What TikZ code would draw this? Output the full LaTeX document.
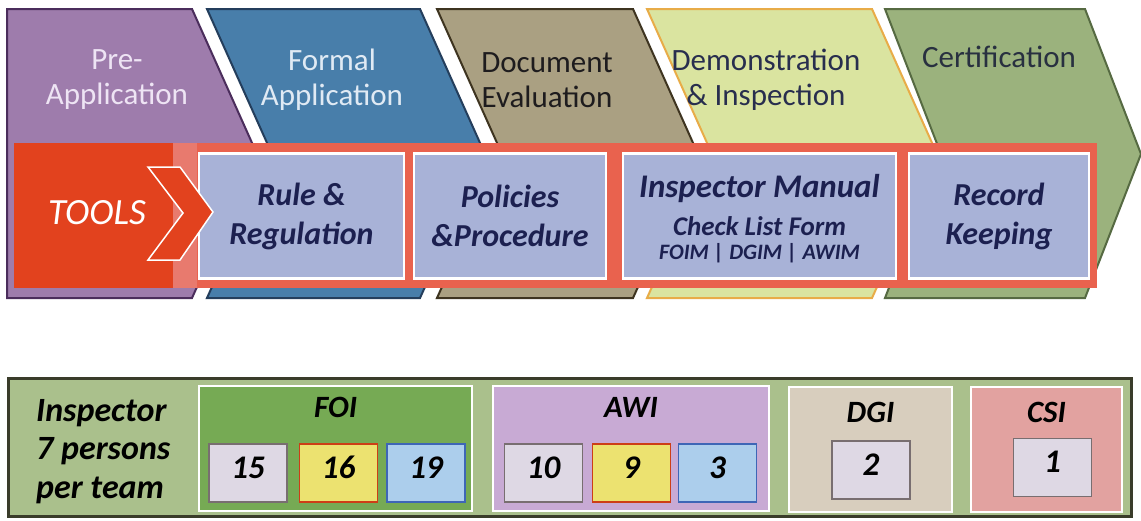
\documentclass[tikz,border=0pt]{standalone}
\usepackage{fontspec}
\setmainfont{Carlito}
\usetikzlibrary{positioning}

\definecolor{preFill}{RGB}{158,124,172}
\definecolor{preEdge}{RGB}{75,45,92}
\definecolor{preText}{RGB}{238,228,244}
\definecolor{formalFill}{RGB}{72,126,170}
\definecolor{formalEdge}{RGB}{36,62,92}
\definecolor{formalText}{RGB}{224,234,244}
\definecolor{docFill}{RGB}{170,160,130}
\definecolor{docEdge}{RGB}{62,52,32}
\definecolor{docText}{RGB}{30,28,30}
\definecolor{demoFill}{RGB}{218,228,160}
\definecolor{demoEdge}{RGB}{232,172,72}
\definecolor{demoText}{RGB}{40,46,78}
\definecolor{certFill}{RGB}{155,178,125}
\definecolor{certEdge}{RGB}{86,106,66}
\definecolor{certText}{RGB}{40,48,64}
\definecolor{bandRed}{RGB}{233,98,78}
\definecolor{toolsRed}{RGB}{226,66,30}
\definecolor{stripRed}{RGB}{232,122,110}
\definecolor{toolBlue}{RGB}{168,178,215}
\definecolor{toolInk}{RGB}{28,32,80}
\definecolor{panelGreen}{RGB}{170,192,140}
\definecolor{panelEdge}{RGB}{58,60,42}
\definecolor{foiGreen}{RGB}{118,170,84}
\definecolor{awiLilac}{RGB}{200,170,212}
\definecolor{dgiBeige}{RGB}{216,206,190}
\definecolor{csiPink}{RGB}{226,162,160}
\definecolor{greyBox}{RGB}{222,216,228}
\definecolor{greyEdge}{RGB}{120,110,112}
\definecolor{yellowBox}{RGB}{236,226,112}
\definecolor{yellowEdge}{RGB}{205,62,22}
\definecolor{blueBox}{RGB}{172,206,236}
\definecolor{blueEdge}{RGB}{62,102,182}

\tikzset{
  phase/.style={line width=2pt, line join=miter},
  phasetext/.style={font=\fontsize{31}{35}\selectfont, align=center},
  toolbox/.style={draw=white, line width=2.5pt, fill=toolBlue, text=toolInk, minimum height=125pt, inner sep=0pt, align=center, font=\bfseries\itshape\fontsize{32}{39}\selectfont},
  tooltext/.style={text=toolInk, inner sep=0pt},
  groupbox/.style={draw=white, line width=2pt, minimum height=125pt, inner sep=0pt},
  grouplabel/.style={inner sep=0pt, font=\bfseries\itshape\fontsize{31}{31}\selectfont},
  numbox/.style={line width=1.8pt, minimum width=78pt, minimum height=58pt, inner sep=0pt, text height=21pt, text depth=11pt, font=\bfseries\itshape\fontsize{33}{33}\selectfont},
}

\begin{document}
\begin{tikzpicture}[x=1pt, y=-1pt]
  \path[use as bounding box, fill=white] (0,0) rectangle (1141,520);
  % phases
  \draw[phase, fill=preFill, draw=preEdge] (7,9) -- (192,9) -- (257,154) -- (192,298) -- (7,298) -- cycle;
  \foreach \xl/\xr/\d/\fc/\dc in {207/420/65/formalFill/formalEdge, 437/633/65/docFill/docEdge, 647/872/65/demoFill/demoEdge, 885/1085/56/certFill/certEdge}
    \draw[phase, fill=\fc, draw=\dc] (\xl,9) -- (\xr,9) -- ({\xr+\d},154) -- (\xr,298) -- (\xl,298) -- ({\xl+\d},154) -- cycle;
  \node[phasetext, text=preText] (pre) at (117,80) {Pre-\\Application};
  \node[phasetext, text=formalText] (formal) at (332,80) {Formal\\Application};
  \node[phasetext, text=docText] (document) at (547,80) {Document\\Evaluation};
  \node[phasetext, text=demoText] (demo) at (766,80) {Demonstration\\\& Inspection};
  \node[phasetext, text=certText] (cert) at (999,57) {Certification};
  %
  % tools band
  \node[fill=bandRed, minimum width=1083pt, minimum height=145pt, inner sep=0pt] (band) at (555.5,215.5) {};
  \fill[toolsRed] (14,143) rectangle (173,288);
  \fill[stripRed] (173,143) rectangle (197,288);
  \node[text=white, inner sep=0pt, font=\itshape\fontsize{37}{37}\selectfont] (tools) at (97,213) {TOOLS};
  \node[toolbox, minimum width=205pt] (rule) at (301.5,216) {Rule \&\\Regulation};
  \node[toolbox, minimum width=192pt] (policies) at (510,216) {Policies\\\&Procedure};
  \node[toolbox, minimum width=273pt] (manual) at (759.5,216) {};
  \node[toolbox, minimum width=180pt] (record) at (999,216) {Record\\Keeping};
  \node[tooltext, font=\bfseries\itshape\fontsize{33}{33}\selectfont] (manualtitle) at (759.5,189) {Inspector Manual};
  \node[tooltext, font=\bfseries\itshape\fontsize{27}{27}\selectfont] (checklist) at (759.5,226) {Check List Form};
  \node[tooltext, font=\bfseries\itshape\fontsize{22}{22}\selectfont] (forms) at (759.5,253) {FOIM | DGIM | AWIM};
  \draw[draw=white, line width=1.5pt, fill=toolsRed, line join=miter] (148,167) -- (180,167) -- (213,212) -- (180,260) -- (148,260) -- (183,213) -- cycle;
  %
  % inspector teams
  \node[draw=panelEdge, line width=3pt, fill=panelGreen, minimum width=1123pt, minimum height=138pt, inner sep=0pt] (panel) at (570,447.5) {};
  \node[anchor=west, align=left, inner sep=0pt, font=\bfseries\itshape\fontsize{34}{38.5}\selectfont] (inspector) at (36,451.5) {Inspector\\7 persons\\per team};
  \node[groupbox, fill=foiGreen, minimum width=273pt] (foi) at (335.5,448.5) {};
  \node[groupbox, fill=awiLilac, minimum width=276pt] (awi) at (631,448.5) {};
  \node[groupbox, fill=dgiBeige, minimum width=163pt] (dgi) at (870.5,449.5) {};
  \node[groupbox, fill=csiPink, minimum width=151pt] (csi) at (1046.5,449.5) {};
  \node[grouplabel, below=12pt of foi.north] (foilabel) {FOI};
  \node[grouplabel, below=12pt of awi.north] (awilabel) {AWI};
  \node[grouplabel, below=16pt of dgi.north] (dgilabel) {DGI};
  \node[grouplabel, below=16pt of csi.north] (csilabel) {CSI};
  \foreach \n/\x/\y/\fc/\dc in {15/248/473/greyBox/greyEdge, 16/338.5/473/yellowBox/yellowEdge, 19/426/473/blueBox/blueEdge, 10/543.5/473/greyBox/greyEdge, 9/631.5/473/yellowBox/yellowEdge, 3/717.5/473/blueBox/blueEdge, 2/871/470/greyBox/greyEdge, 1/1052.5/467.5/greyBox/greyEdge}
    \node[numbox, fill=\fc, draw=\dc] (num\n) at (\x,\y) {\n};
\end{tikzpicture}
\end{document}
